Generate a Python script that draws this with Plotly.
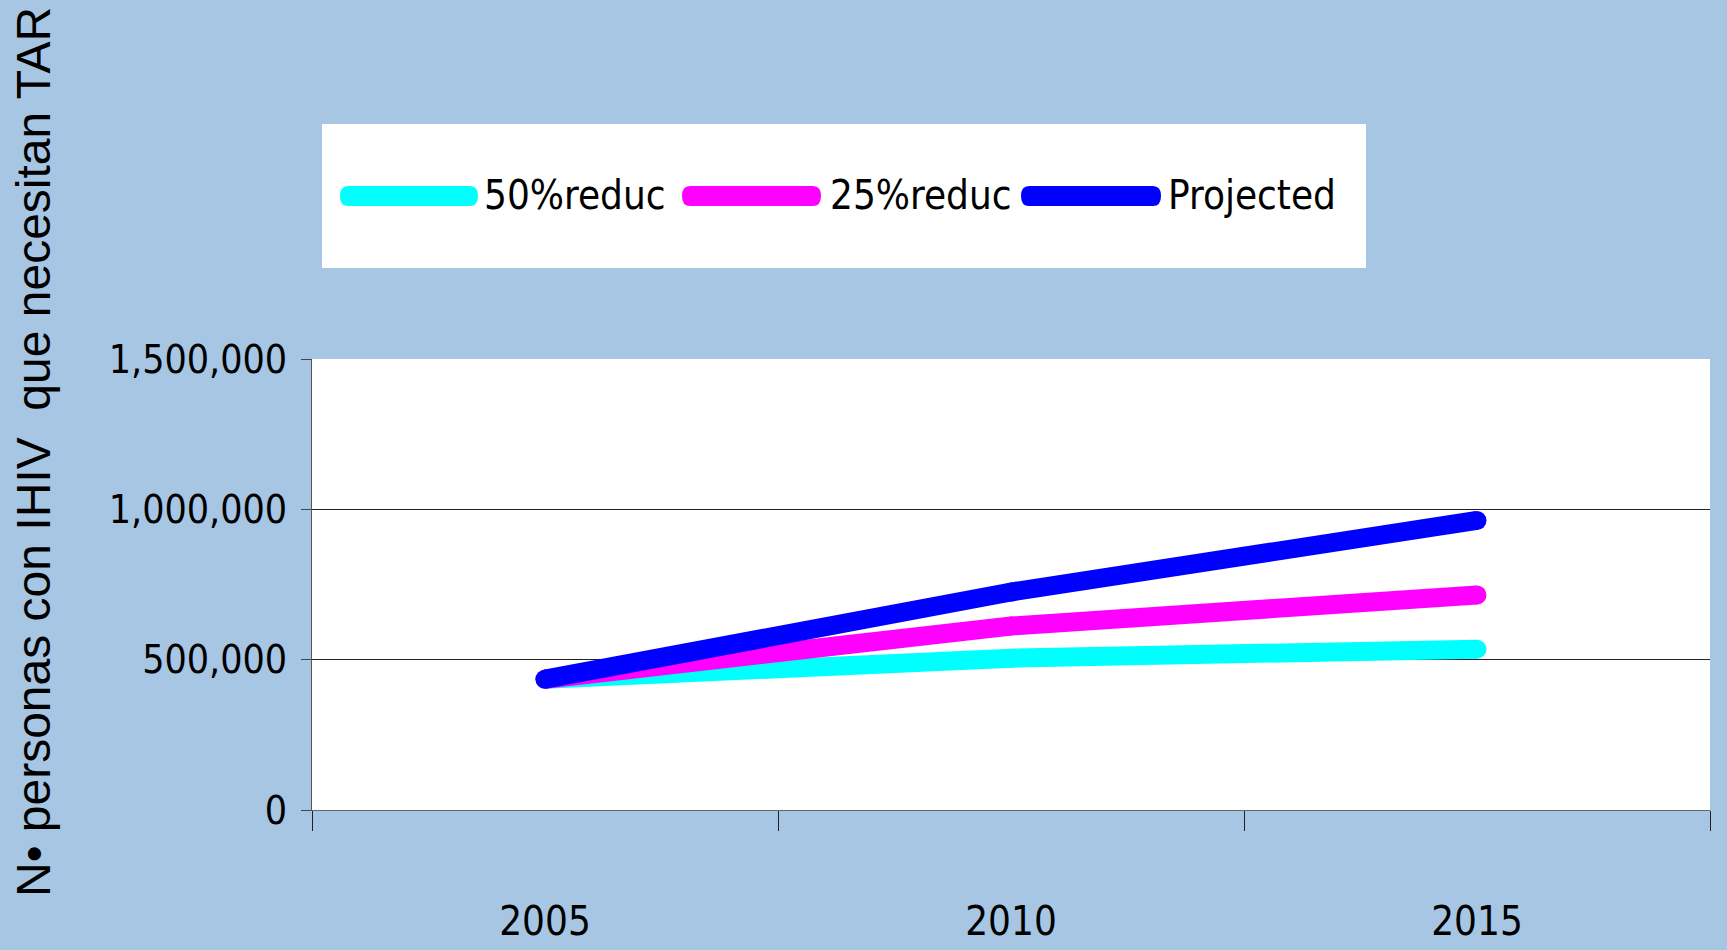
import plotly.graph_objects as go

# ---- data ----
years = ["2005", "2010", "2015"]
reduc50 = [435000, 505000, 535000]
reduc25 = [435000, 612000, 715000]
projected = [435000, 725000, 963000]
series_names = ["50%reduc", "25%reduc", "Projected"]
series_colors = ["#00FFFF", "#FF00FF", "#0000FF"]
y_ticks = [0, 500000, 1000000, 1500000]
y_title = "N\u2022 personas con IHIV\u00a0 que necesitan TAR"

# ---- layout geometry (screen pixels; page body adds an 8px offset) ----
OFF = 8
W, H = 1727, 950
PLOT_L, PLOT_R, PLOT_T, PLOT_B = 312, 1710, 359, 810
L = PLOT_L - OFF
T = PLOT_T - OFF
R = W - (PLOT_R - OFF)
B = H - (PLOT_B - OFF)
PW, PH = PLOT_R - PLOT_L, PLOT_B - PLOT_T
BG = "#A7C6E3"
NARROW = "DejaVu Sans Condensed, Liberation Sans Narrow, Liberation Sans, sans-serif"


def px(x):
    return (x - PLOT_L) / PW


def py(y):
    return (PLOT_B - y) / PH


fig = go.Figure()
for name, vals, col in zip(series_names, [reduc50, reduc25, projected], series_colors):
    fig.add_trace(go.Scatter(
        x=years, y=vals, name=name, mode="lines+markers",
        line=dict(color=col, width=19),
        marker=dict(color=col, size=19, line=dict(width=0)),
        showlegend=False,
    ))

shapes = []
annotations = []
# legend box
shapes.append(dict(type="rect", xref="paper", yref="paper",
                   x0=px(322), x1=px(1366), y0=py(268), y1=py(124),
                   fillcolor="white", line=dict(width=0), layer="above"))
legend_items = [(340, 478, 482), (682, 821, 828), (1021, 1161, 1166)]
cy, hh, r = 196, 10, 8
for (x1, x2, tx), name, col in zip(legend_items, series_names, series_colors):
    path = (f"M {px(x1 + r)},{py(cy - hh)} L {px(x2 - r)},{py(cy - hh)} "
            f"Q {px(x2)},{py(cy - hh)} {px(x2)},{py(cy)} "
            f"Q {px(x2)},{py(cy + hh)} {px(x2 - r)},{py(cy + hh)} "
            f"L {px(x1 + r)},{py(cy + hh)} "
            f"Q {px(x1)},{py(cy + hh)} {px(x1)},{py(cy)} "
            f"Q {px(x1)},{py(cy - hh)} {px(x1 + r)},{py(cy - hh)} Z")
    shapes.append(dict(type="path", xref="paper", yref="paper", path=path,
                       fillcolor=col, line=dict(width=0), layer="above"))
    annotations.append(dict(text=name, xref="paper", yref="paper",
                            x=px(tx), y=py(195), xanchor="left", yanchor="middle",
                            showarrow=False, font=dict(family=NARROW, size=40, color="black")))

annotations.append(dict(text=y_title, xref="paper", yref="paper",
                        x=px(33), y=py(452), xanchor="center", yanchor="middle",
                        textangle=-90, showarrow=False, borderpad=0,
                        font=dict(family="Liberation Sans, Arial, sans-serif", size=48, color="black")))

fig.update_layout(
    width=W, height=H,
    margin=dict(l=L, r=R, t=T, b=B, autoexpand=False),
    paper_bgcolor=BG, plot_bgcolor="white",
    shapes=shapes, annotations=annotations,
    showlegend=False,
)
fig.update_xaxes(
    type="category", categoryorder="array", categoryarray=years,
    range=[-0.5, 2.5], tickson="boundaries", ticks="outside", ticklen=20,
    tickcolor="#222", tickwidth=1, showline=True, linecolor="#666", linewidth=1,
    showgrid=False, zeroline=False,
    tickfont=dict(family=NARROW, size=40, color="black"), ticklabelstandoff=76,
)
fig.update_yaxes(
    range=[0, 1500000], tickvals=y_ticks, tickformat=",",
    ticks="outside", ticklen=10, tickcolor="#444", showline=True, linecolor="#555",
    linewidth=1, showgrid=True, gridcolor="#222", gridwidth=1, zeroline=False,
    tickfont=dict(family=NARROW, size=39, color="black"), ticklabelstandoff=6,
)

fig.write_html("out.html", post_script=f"document.body.style.background='{BG}';")
